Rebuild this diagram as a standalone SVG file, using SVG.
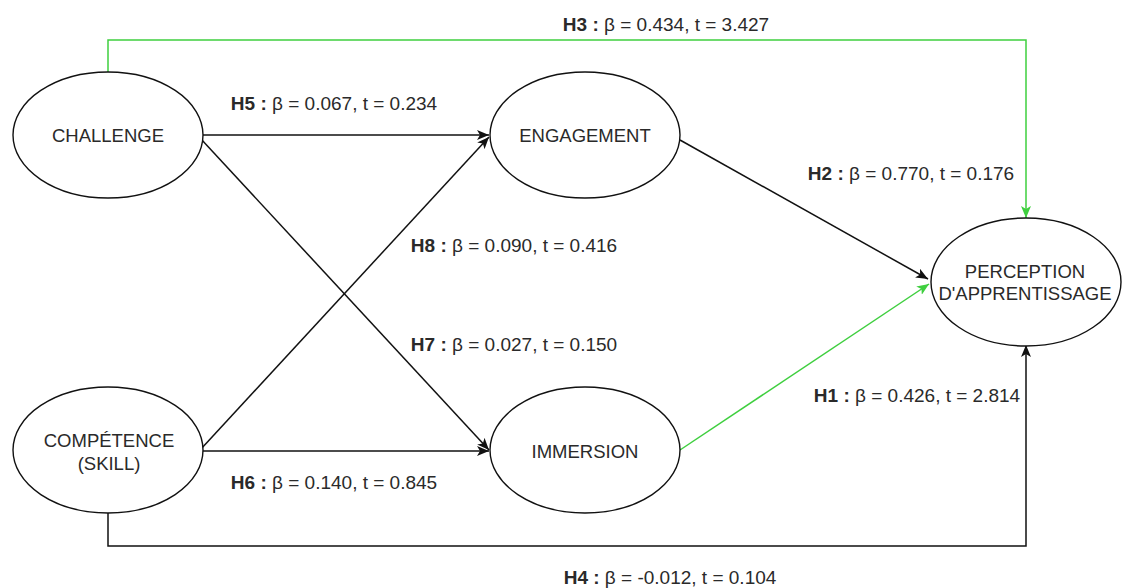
<svg xmlns="http://www.w3.org/2000/svg" width="1125" height="588" viewBox="0 0 1125 588">
<style>
.node ellipse{fill:#fff;stroke:#111;stroke-width:1.4}
.node text{font-family:"Liberation Sans",Arial,sans-serif;font-size:18.5px;fill:#2a2a2a;text-anchor:middle}
.lbl{font-family:"Liberation Sans",Arial,sans-serif;font-size:19px;fill:#2a2a2a;text-anchor:middle}
.lbl tspan.b{font-weight:bold}
.blk{fill:none;stroke:#111;stroke-width:1.5}
.grn{fill:none;stroke:#3fcf3f;stroke-width:1.5}
</style>
<defs>
<marker id="ab" viewBox="0 0 12 10" refX="12" refY="5" markerWidth="12" markerHeight="10" markerUnits="userSpaceOnUse" orient="auto"><path d="M0,0 L12,5 L0,10 L3,5 z" fill="#111"/></marker>
<marker id="ag" viewBox="0 0 12 10" refX="12" refY="5" markerWidth="12" markerHeight="10" markerUnits="userSpaceOnUse" orient="auto"><path d="M0,0 L12,5 L0,10 L3,5 z" fill="#3fcf3f"/></marker>
</defs>
<rect width="1125" height="588" fill="#fff"/>
<g id="connectors">
<path class="grn" d="M108,72 L108,40 L1026,40 L1026,218" marker-end="url(#ag)"/>
<path class="blk" d="M203,135 L489,135" marker-end="url(#ab)"/>
<path class="blk" d="M201,139 L489,450" marker-end="url(#ab)"/>
<path class="blk" d="M201,449 L489,137" marker-end="url(#ab)"/>
<path class="blk" d="M203,451 L489,451" marker-end="url(#ab)"/>
<path class="blk" d="M680,140 L928,279" marker-end="url(#ab)"/>
<path class="grn" d="M680,450 L929,284" marker-end="url(#ag)"/>
<path class="blk" d="M108,513 L108,546 L1026,546 L1026,345" marker-end="url(#ab)"/>
</g>
<g id="labels">
<text class="lbl" x="666" y="31"><tspan class="b">H3 :</tspan> β = 0.434, t = 3.427</text>
<text class="lbl" x="334" y="110"><tspan class="b">H5 :</tspan> β = 0.067, t = 0.234</text>
<text class="lbl" x="514" y="252"><tspan class="b">H8 :</tspan> β = 0.090, t = 0.416</text>
<text class="lbl" x="514" y="351"><tspan class="b">H7 :</tspan> β = 0.027, t = 0.150</text>
<text class="lbl" x="334" y="489"><tspan class="b">H6 :</tspan> β = 0.140, t = 0.845</text>
<text class="lbl" x="911" y="180"><tspan class="b">H2 :</tspan> β = 0.770, t = 0.176</text>
<text class="lbl" x="917" y="402"><tspan class="b">H1 :</tspan> β = 0.426, t = 2.814</text>
<text class="lbl" x="670" y="584"><tspan class="b">H4 :</tspan> β = -0.012, t = 0.104</text>
</g>
<g id="challenge" class="node"><ellipse cx="108" cy="135" rx="95" ry="63"/><text x="108" y="142">CHALLENGE</text></g>
<g id="competence" class="node"><ellipse cx="108" cy="450" rx="95" ry="63"/><text x="109" y="447">COMPÉTENCE</text><text x="109" y="470">(SKILL)</text></g>
<g id="engagement" class="node"><ellipse cx="585" cy="135" rx="95" ry="63"/><text x="585" y="142">ENGAGEMENT</text></g>
<g id="immersion" class="node"><ellipse cx="585" cy="450" rx="95" ry="63"/><text x="585" y="458">IMMERSION</text></g>
<g id="perception" class="node"><ellipse cx="1026" cy="282" rx="95" ry="64"/><text x="1025" y="278">PERCEPTION</text><text x="1025" y="300">D'APPRENTISSAGE</text></g>
</svg>
